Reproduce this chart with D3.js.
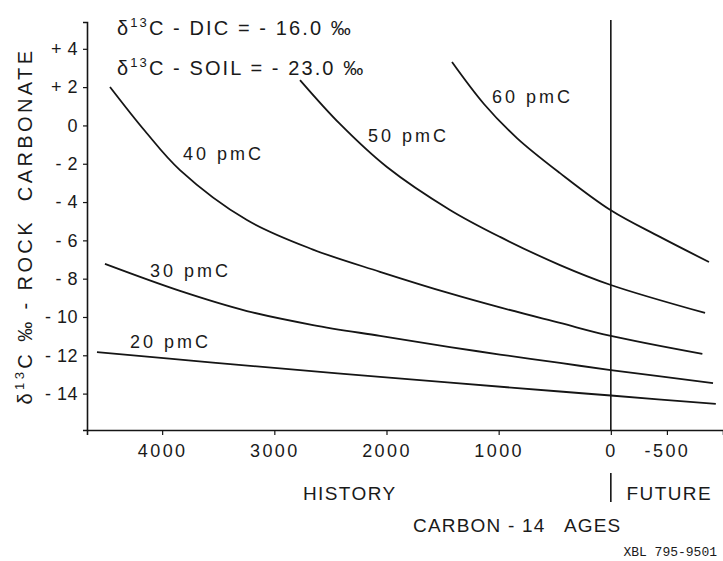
<!DOCTYPE html>
<html>
<head>
<meta charset="utf-8">
<script src="https://cdn.jsdelivr.net/npm/d3@7/dist/d3.min.js"></script>
<style>
  body { margin: 0; background: #fff; }
  text { font-family: "Liberation Sans", Arial, Helvetica, sans-serif; fill: #1a1a1a; white-space: pre; }
</style>
</head>
<body>
<svg id="chart" width="723" height="561"></svg>
<script>
// Carbon-14 age of groundwater versus δ13C of the dissolved rock carbonate,
// one curve per measured pmC value.
const ageTicks = [4000, 3000, 2000, 1000, 0, -500];
const deltaTicks = [4, 2, 0, -2, -4, -6, -8, -10, -12, -14];
const curveNames = ["20 pmC", "30 pmC", "40 pmC", "50 pmC", "60 pmC"];

// [carbon-14 age (years), δ13C rock carbonate (‰)]
const curve20 = [[4581, -11.83], [3547, -12.38], [2058, -13.13], [453, -13.89], [0, -14.10], [-936, -14.54]];
const curve30 = [[4510, -7.23], [3841, -8.64], [3244, -9.69], [2655, -10.42], [2058, -10.99], [1434, -11.57], [988, -11.96], [453, -12.40], [0, -12.77], [-911, -13.45]];
const curve40 = [[4465, 2.01], [4153, -0.29], [3841, -2.33], [3244, -4.94], [2655, -6.48], [2058, -7.64], [1434, -8.77], [988, -9.50], [453, -10.31], [0, -10.99], [-816, -11.93]];
const curve50 = [[2771, 2.37], [2415, 0.08], [1996, -2.17], [1434, -4.41], [988, -5.82], [453, -7.29], [0, -8.33], [-840, -9.79]];
const curve60 = [[1416, 3.31], [1131, 1.12], [837, -0.66], [453, -2.49], [0, -4.43], [-438, -5.82], [-875, -7.13]];
const curves = [curve20, curve30, curve40, curve50, curve60];

const headerLines = [
  { name: "DIC", value: "16.0" },
  { name: "SOIL", value: "23.0" }
];

const svg = d3.select("#chart");
svg.append("rect").attr("width", 723).attr("height", 561).attr("fill", "#fff");

const x = d3.scaleLinear().domain([4670, -1000]).range([87, 723]);
const y = d3.scaleLinear().domain([5.4, -15.9]).range([22, 430]);

const ink = "#151515";

// axes
const xAxis = d3.axisBottom(x)
  .tickValues(ageTicks)
  .tickSize(5)
  .tickPadding(9)
  .tickFormat(d => d < 0 ? "-" + (-d) : String(d));
const yAxis = d3.axisLeft(y)
  .tickValues(deltaTicks)
  .tickSize(4)
  .tickPadding(5)
  .tickFormat(d => d > 0 ? "+ " + d : d < 0 ? "- " + (-d) : "0");

const gx = svg.append("g").attr("transform", `translate(0,${y.range()[1]})`).call(xAxis);
const gy = svg.append("g").attr("transform", `translate(${x.range()[0]},0)`).call(yAxis);
[gx, gy].forEach(g => {
  g.select(".domain").attr("stroke", ink).attr("stroke-width", 1.6);
  g.selectAll(".tick line").attr("stroke", ink).attr("stroke-width", 1.2);
  g.selectAll(".tick text")
    .style("font-family", '"Liberation Sans", Arial, sans-serif')
    .style("font-size", "18px")
    .attr("fill", "#1a1a1a");
});
gx.selectAll(".tick text").style("letter-spacing", "2.4px");
gy.selectAll(".tick text").style("letter-spacing", "0.5px");

// present-day divider at age 0
svg.append("line")
  .attr("x1", x(0)).attr("x2", x(0))
  .attr("y1", y.range()[0] - 2).attr("y2", y.range()[1])
  .attr("stroke", ink).attr("stroke-width", 1.6);

// pmC curves
const line = d3.line()
  .x(d => x(d[0]))
  .y(d => y(d[1]))
  .curve(d3.curveCatmullRom.alpha(0.5));

svg.append("g")
  .selectAll("path")
  .data(curves)
  .join("path")
  .attr("d", line)
  .attr("fill", "none")
  .attr("stroke", ink)
  .attr("stroke-width", 1.8);

// curve labels
const labelPos = [[130, 348], [150, 277], [183, 160], [368, 142], [492, 103]];
svg.append("g")
  .selectAll("text")
  .data(curveNames)
  .join("text")
  .attr("x", (d, i) => labelPos[i][0])
  .attr("y", (d, i) => labelPos[i][1])
  .style("font-size", "18px")
  .style("letter-spacing", "3px")
  .text(d => d);

// header: isotopic compositions of DIC and soil CO2
headerLines.forEach((h, i) => {
  const t = svg.append("text")
    .attr("x", 117)
    .attr("y", 35 + i * 40)
    .style("font-size", "20px")
    .style("letter-spacing", "2.1px");
  t.append("tspan").text("δ");
  t.append("tspan").attr("dy", -8).style("font-size", "13px").text("13");
  t.append("tspan").attr("dy", 8).text(`C - ${h.name} = - ${h.value} ‰`);
});

// y axis title
const yt = svg.append("text")
  .attr("transform", `translate(32,226) rotate(-90)`)
  .attr("text-anchor", "middle")
  .style("font-size", "20px")
  .style("letter-spacing", "3.4px");
yt.append("tspan").text("δ");
yt.append("tspan").attr("dy", -8).style("font-size", "13px").text("13");
yt.append("tspan").attr("dy", 8).text("C ‰ - ROCK  CARBONATE");

// x axis captions
svg.append("text").attr("x", 303).attr("y", 500)
  .style("font-size", "19px").style("letter-spacing", "1.4px").text("HISTORY");
svg.append("text").attr("x", 712).attr("y", 500).attr("text-anchor", "end")
  .style("font-size", "19px").style("letter-spacing", "1.4px").text("FUTURE");
svg.append("line")
  .attr("x1", x(0)).attr("x2", x(0)).attr("y1", 473).attr("y2", 502)
  .attr("stroke", ink).attr("stroke-width", 1.6);
svg.append("text").attr("x", 413).attr("y", 532)
  .style("font-size", "19px").style("letter-spacing", "1.2px")
  .text("CARBON - 14   AGES");

// drawing reference number
svg.append("text").attr("x", 717).attr("y", 556).attr("text-anchor", "end")
  .style("font-family", '"Liberation Mono", "DejaVu Sans Mono", monospace')
  .style("font-size", "13px")
  .text("XBL 795-9501");
</script>
</body>
</html>
